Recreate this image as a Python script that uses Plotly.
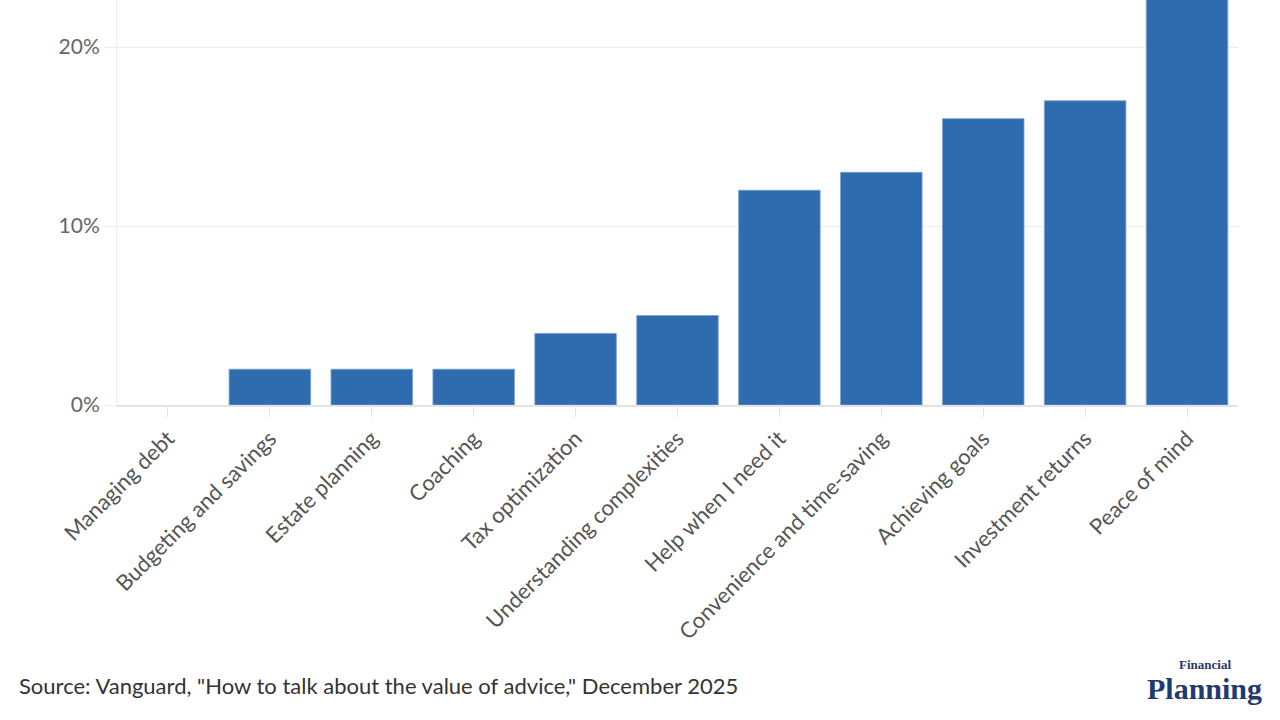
import plotly.graph_objects as go

categories = ["Managing debt", "Budgeting and savings", "Estate planning", "Coaching",
              "Tax optimization", "Understanding complexities", "Help when I need it",
              "Convenience and time-saving", "Achieving goals", "Investment returns",
              "Peace of mind"]
values = [0, 2, 2, 2, 4, 5, 12, 13, 16, 17, 29]
y_ticks = [0, 10, 20]
y_tick_labels = ["0%", "10%", "20%"]

fig = go.Figure(go.Bar(
    x=categories, y=values,
    marker=dict(color="#2f6caf",
                line=dict(color="rgba(120,160,210,0.8)",
                          width=[0 if v == 0 else 1 for v in values])),
    hoverinfo="x+y",
))

PL, PR, PB = 117, 1238, 405
pw, ph = PR - PL, PB

fig.update_layout(
    width=1280, height=720,
    margin=dict(l=PL, r=1280 - PR, t=0, b=720 - PB),
    paper_bgcolor="white", plot_bgcolor="white",
    font=dict(family="Lato", color="#555555", size=22),
    bargap=0.2,
    showlegend=False,
    xaxis=dict(
        tickangle=-45, showgrid=False,
        ticks="outside", ticklen=10, tickcolor="#e3e3e3", tickwidth=1,
        showline=True, linecolor="#e3e3e3", linewidth=2,
        tickfont=dict(family="Lato", size=22, color="#555555"),
    ),
    yaxis=dict(
        range=[0, 22.63], tickvals=y_ticks, ticktext=y_tick_labels,
        showgrid=True, gridcolor="#eeeeee", gridwidth=1,
        zeroline=False,
        ticks="outside", ticklen=12, tickcolor="#eeeeee",
        showline=True, linecolor="#eeeeee", linewidth=1,
        tickfont=dict(family="Lato", size=21, color="#666666"),
    ),
    annotations=[
        dict(text='Source: Vanguard, "How to talk about the value of advice," December 2025',
             xref="paper", yref="paper", x=(17 - PL) / pw, y=-(685 - PB) / ph,
             xanchor="left", yanchor="middle", showarrow=False,
             font=dict(family="Lato", size=22, color="#333333")),
        dict(text="<b>Financial</b>", xref="paper", yref="paper",
             x=(1233 - PL) / pw, y=-(664 - PB) / ph, xanchor="right", yanchor="middle",
             showarrow=False, font=dict(family="Liberation Serif", size=13, color="#1f3a6e")),
        dict(text="<b>Planning</b>", xref="paper", yref="paper",
             x=(1264 - PL) / pw, y=-(688 - PB) / ph, xanchor="right", yanchor="middle",
             showarrow=False, font=dict(family="Liberation Serif", size=30, color="#1f3a6e")),
    ],
)

fig.write_html("out.html", config={"displayModeBar": False},
               post_script="document.body.style.margin='0';")
